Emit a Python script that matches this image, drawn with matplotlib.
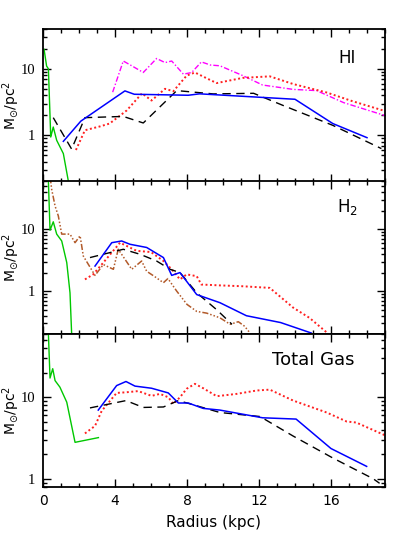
import numpy as np
import matplotlib
matplotlib.use("Agg")
import matplotlib.pyplot as plt
from matplotlib.ticker import LogLocator, MultipleLocator, FixedLocator, NullFormatter

# ---- HI panel ----
hi_green_r = [0.06, 0.2, 0.3, 0.43, 0.57, 0.76, 1.13, 1.4, 1.55]
hi_green_s = [19.6, 11.0, 10.0, 0.94, 1.33, 0.84, 0.53, 0.21, 0.12]
hi_blue_r = [1.13, 2.1, 4.55, 5.07, 8.07, 8.7, 14.0, 16.1, 18.0]
hi_blue_s = [0.81, 1.63, 4.65, 4.14, 4.0, 4.2, 3.48, 1.5, 0.92]
hi_black_r = [0.57, 1.59, 2.33, 4.46, 5.57, 7.43, 9.46, 11.7, 13.35, 16.1, 18.8]
hi_black_s = [1.84, 0.62, 1.84, 1.92, 1.53, 4.7, 4.19, 4.28, 2.8, 1.41, 0.63]
hi_red_r = [1.83, 2.33, 3.17, 3.7, 4.65, 5.5, 6.03, 6.78, 7.24, 7.98, 8.44, 9.28, 9.65,
            11.1, 12.6, 13.9, 15.76, 17.2, 18.9]
hi_red_s = [0.6, 1.19, 1.36, 1.5, 2.36, 4.28, 3.33, 5.0, 4.6, 7.9, 8.8, 6.8, 6.1,
            7.3, 7.7, 5.9, 4.4, 3.25, 2.36]
hi_mag_r = [3.87, 4.46, 4.93, 5.57, 6.31, 6.78, 7.15, 7.8, 8.26, 8.8, 9.3, 9.83, 11.1,
            12.2, 13.9, 15.2, 16.7, 19.1]
hi_mag_s = [4.45, 13.1, 11.1, 8.8, 14.3, 12.4, 13.1, 8.3, 8.8, 12.7, 11.4, 11.1, 7.9,
            5.7, 4.9, 4.7, 3.1, 1.94]

# ---- H2 panel ----
h2_green_r = [0.25, 0.3, 0.39, 0.57, 0.76, 1.04, 1.32, 1.5, 1.59, 1.65]
h2_green_s = [80.0, 60.0, 9.7, 13.3, 8.4, 6.5, 2.9, 0.94, 0.21, 0.12]
h2_brown_r = [0.4, 0.48, 0.67, 0.85, 1.04, 1.5, 1.78, 2.06, 2.24, 2.89, 3.35, 3.91, 4.18,
              4.93, 5.48, 5.76, 6.22, 6.69, 6.94, 7.43, 8.0, 8.54, 9.1, 9.83, 10.4,
              10.85, 11.2, 11.5]
h2_brown_s = [70.0, 45.0, 24.0, 16.6, 8.4, 8.4, 6.1, 7.9, 3.7, 1.8, 2.7, 2.26, 4.77,
              2.26, 3.08, 2.1, 1.71, 1.37, 1.6, 1.0, 0.61, 0.47, 0.44, 0.37, 0.29,
              0.32, 0.27, 0.21]
h2_red_r = [2.33, 2.79, 3.35, 4.28, 5.2, 6.0, 6.69, 7.15, 7.61, 7.98, 8.54, 8.8, 9.83,
            11.1, 12.6, 13.9, 14.8, 15.8]
h2_red_s = [1.55, 1.87, 2.9, 6.1, 4.5, 4.3, 3.08, 2.26, 1.55, 1.87, 1.75, 1.28, 1.24,
            1.2, 1.13, 0.54, 0.37, 0.21]
h2_blue_r = [2.89, 3.82, 4.37, 4.83, 5.76, 6.69, 7.15, 7.61, 8.54, 9.83, 11.3, 13.2, 14.9]
h2_blue_s = [2.55, 6.1, 6.5, 5.75, 5.1, 3.5, 1.8, 2.0, 0.88, 0.65, 0.40, 0.31, 0.21]
h2_black_r = [2.61, 4.46, 5.39, 6.31, 7.06, 7.61, 8.54, 9.65, 10.5]
h2_black_s = [3.5, 4.77, 3.96, 3.08, 2.26, 2.0, 0.94, 0.5, 0.29]

# ---- Total gas panel ----
tot_green_r = [0.2, 0.3, 0.39, 0.54, 0.67, 0.94, 1.32, 1.78, 3.08]
tot_green_s = [90.0, 60.0, 17.2, 22.4, 16.0, 13.3, 8.7, 2.8, 3.2]
tot_blue_r = [3.07, 4.09, 4.61, 5.11, 6.03, 6.96, 7.52, 8.07, 8.9, 9.83, 12.2, 14.06,
              16.0, 17.98]
tot_blue_s = [6.96, 13.9, 15.6, 13.7, 12.9, 11.3, 8.5, 8.5, 7.3, 6.96, 5.6, 5.4, 2.35, 1.42]
tot_black_r = [2.61, 4.61, 5.57, 6.69, 7.52, 8.17, 9.83, 12.06, 13.9, 16.1, 18.35, 18.7]
tot_black_s = [7.4, 9.1, 7.5, 7.6, 9.1, 8.3, 6.5, 5.8, 3.34, 1.8, 1.0, 0.88]
tot_red_r = [2.33, 2.89, 3.26, 4.09, 4.61, 5.29, 6.03, 6.5, 6.96, 7.24, 7.61, 7.98, 8.44,
             8.9, 9.65, 10.76, 11.87, 12.6, 13.9, 15.76, 16.87, 17.4, 19.1]
tot_red_s = [3.6, 4.45, 6.8, 11.3, 11.5, 11.9, 10.4, 11.0, 10.0, 8.3, 10.0, 12.7, 14.6,
             12.9, 10.3, 11.0, 12.1, 12.4, 9.1, 6.5, 5.04, 4.9, 3.34]

panel_labels = ["HI", "H$_2$", "Total Gas"]
ylims = [(0.2, 40), (0.2, 60), (0.8, 60)]

plt.rcParams['font.family'] = ['DejaVu Sans']
fig = plt.figure(figsize=(4.07, 5.42), dpi=100)

left, width = 43 / 407, (385 - 43) / 407
h = 152.9 / 542
bottoms = [1 - 181.7 / 542, 1 - 334.3 / 542, 1 - 486.7 / 542]
axes = [fig.add_axes([left, b, width, h]) for b in bottoms]

blue = '#0000ff'
red = '#ff2020'
green = '#00c800'
mag = '#ff00ff'
brown = '#b25a2a'
dash = (0, (6, 4))
dot = (0, (1, 1.3))
dashdot = (0, (4, 1.5, 1, 1.5))
dashdot3 = (0, (4, 1.3, 1, 1.3, 1, 1.3, 1, 1.3))

ax = axes[0]
ax.plot(hi_green_r, hi_green_s, color=green, lw=1)
ax.plot(hi_mag_r, hi_mag_s, color=mag, lw=1, linestyle=dashdot)
ax.plot(hi_red_r, hi_red_s, color=red, lw=1.4, linestyle=dot)
ax.plot(hi_black_r, hi_black_s, color='black', lw=1, linestyle=dash)
ax.plot(hi_blue_r, hi_blue_s, color=blue, lw=1.1)

ax = axes[1]
ax.plot(h2_green_r, h2_green_s, color=green, lw=1)
ax.plot(h2_brown_r, h2_brown_s, color=brown, lw=1.1, linestyle=dashdot3)
ax.plot(h2_red_r, h2_red_s, color=red, lw=1.4, linestyle=dot)
ax.plot(h2_black_r, h2_black_s, color='black', lw=1, linestyle=dash)
ax.plot(h2_blue_r, h2_blue_s, color=blue, lw=1.1)

ax = axes[2]
ax.plot(tot_green_r, tot_green_s, color=green, lw=1)
ax.plot(tot_red_r, tot_red_s, color=red, lw=1.4, linestyle=dot)
ax.plot(tot_black_r, tot_black_s, color='black', lw=1, linestyle=dash)
ax.plot(tot_blue_r, tot_blue_s, color=blue, lw=1.1)

label_pos = [(0.89, 0.81), (0.89, 0.83), (0.79, 0.83)]
label_size = [12, 12, 13]
for i, ax in enumerate(axes):
    ax.set_yscale('log')
    ax.set_xlim(0, 19)
    ax.set_ylim(*ylims[i])
    ax.xaxis.set_major_locator(MultipleLocator(4))
    ax.xaxis.set_minor_locator(MultipleLocator(1))
    ax.yaxis.set_major_locator(FixedLocator([1, 10]))
    ax.yaxis.set_minor_locator(LogLocator(base=10, subs=np.arange(2, 10)))
    ax.yaxis.set_minor_formatter(NullFormatter())
    ax.set_yticklabels(['1', '10'], family='Liberation Serif', fontsize=10.5)
    ax.tick_params(which='both', direction='in', top=True, right=True, width=1)
    ax.tick_params(which='major', length=5.5)
    ax.tick_params(which='minor', length=3)
    ax.tick_params(axis='y', pad=5.5)
    for sp in ax.spines.values():
        sp.set_linewidth(1.3)
    ax.set_ylabel(r'M$_{\odot}$/pc$^2$', fontsize=10, va='center')
    ax.yaxis.set_label_coords(-0.094, 0.5)
    if i < 2:
        ax.tick_params(labelbottom=False)
    else:
        ax.tick_params(axis='x', labelsize=10, pad=5)
    ax.text(label_pos[i][0], label_pos[i][1], panel_labels[i], transform=ax.transAxes,
            fontsize=label_size[i], ha='center', va='center')

axes[2].set_xlabel('Radius (kpc)', fontsize=11, labelpad=5)

fig.savefig('out.png', dpi=100)
